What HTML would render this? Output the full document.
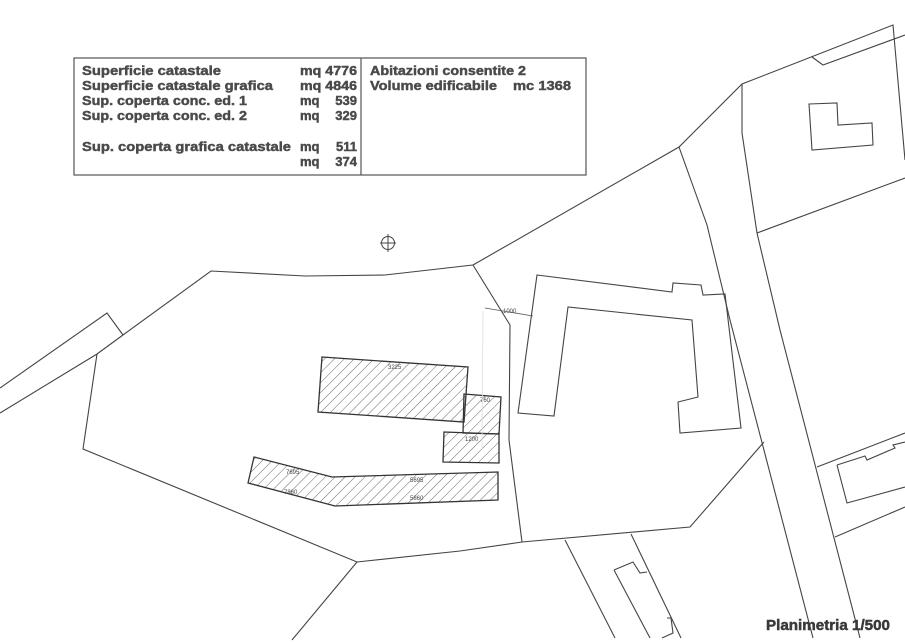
<!DOCTYPE html>
<html><head><meta charset="utf-8"><style>
html,body{margin:0;padding:0;background:#fff}
svg{display:block}
text{font-family:"Liberation Sans",sans-serif}
.t{font-weight:bold;font-size:13px;fill:#4a4a4a;stroke:#4a4a4a;stroke-width:0.45}
</style></head><body>
<svg width="905" height="642" viewBox="0 0 905 642" xmlns="http://www.w3.org/2000/svg">
<defs>
<pattern id="h" patternUnits="userSpaceOnUse" width="7" height="7" patternTransform="rotate(45)">
<line x1="0" y1="0" x2="0" y2="7" stroke="#555" stroke-width="0.9"/>
</pattern>
</defs>
<g fill="none" stroke="#444" stroke-width="1.1">
<polyline points="123,335 211,271 305,276 385,275 473,265"/>
<polyline points="97,354 83,449 357,562 460,551 522,542 690,527 764,442"/>
<polyline points="357,562 292,640"/>
<polyline points="0,388 107,313 123,335"/>
<polyline points="0,413 97,354 123,335"/>
<polyline points="473,265 510,325 509,440 522,542"/>
<polyline points="473,265 679,147 742,84 893,25 905,160"/>
<polyline points="812,57 823,65 905,35"/>
<polyline points="679,147 707,225 730,320 813,638"/>
<polyline points="742,84 742,133 757,233 780,330 860,638"/>
<line x1="757" y1="233" x2="905" y2="178"/>
<polygon points="809,104 837,103 838,125 872,123 873,145 812,150"/>
<polygon points="537,275 672,292 673,283 701,285 703,295 725,294 741,428 680,433 678,402 698,397 692,320 568,307 554,416 518,413"/>
<polyline points="817,467 905,433"/>
<polyline points="835,537 905,507"/>
<polyline points="837,465 865,456 867,460 895,448 893,445 905,442"/>
<polyline points="837,465 847,503 905,487"/>
<polyline points="565,540 615,638"/>
<polyline points="631,534 681,638"/>
<polyline points="614,570 633,562 640,573 647,572"/>
<polyline points="614,570 650,638"/>
<polyline points="667,618 671,618 673,633 662,638"/>
</g>
<g stroke="#333" stroke-width="1.3" fill="url(#h)">
<polygon points="322,357 468,367 464,422 318,412"/>
<polygon points="464,394 501,397 499,434 463,433"/>
<polygon points="444,432 499,434 499,463 443,462"/>
<polygon points="254,457 332,477 498,472 498,500 335,506 248,483"/>
</g>
<g font-size="6" fill="#444">
<text x="388" y="369">3225</text>
<text x="480" y="402">760</text>
<text x="465" y="441">1200</text>
<text x="286" y="474">7695</text>
<text x="284" y="494">7860</text>
<text x="410" y="482">5695</text>
<text x="410" y="500">5860</text>
<text x="503" y="313">1000</text>
</g>
<line x1="485" y1="308" x2="533" y2="316" stroke="#555" stroke-width="0.8"/>
<line x1="483" y1="311" x2="482" y2="450" stroke="#ddd" stroke-width="0.8"/>
<circle cx="388" cy="243" r="6.5" fill="none" stroke="#444" stroke-width="1"/>
<line x1="388" y1="234" x2="388" y2="252" stroke="#444" stroke-width="1"/>
<line x1="380" y1="243" x2="396" y2="243" stroke="#444" stroke-width="1"/>
<rect x="74" y="58" width="512" height="117" fill="#fff" stroke="#555" stroke-width="1.2"/>
<line x1="361" y1="58" x2="361" y2="175" stroke="#555" stroke-width="1.2"/>
<text class="t" x="82" y="75" textLength="139" lengthAdjust="spacingAndGlyphs">Superficie catastale</text>
<text class="t" x="82" y="90" textLength="191" lengthAdjust="spacingAndGlyphs">Superficie catastale grafica</text>
<text class="t" x="82" y="105" textLength="165" lengthAdjust="spacingAndGlyphs">Sup. coperta conc. ed. 1</text>
<text class="t" x="82" y="120" textLength="165" lengthAdjust="spacingAndGlyphs">Sup. coperta conc. ed. 2</text>
<text class="t" x="82" y="151" textLength="209" lengthAdjust="spacingAndGlyphs">Sup. coperta grafica catastale</text>
<text class="t" x="300" y="75" textLength="57" lengthAdjust="spacingAndGlyphs">mq 4776</text>
<text class="t" x="300" y="90" textLength="57" lengthAdjust="spacingAndGlyphs">mq 4846</text>
<text class="t" x="300" y="105">mq</text><text class="t" x="357" y="105" text-anchor="end">539</text>
<text class="t" x="300" y="120">mq</text><text class="t" x="357" y="120" text-anchor="end">329</text>
<text class="t" x="300" y="151">mq</text><text class="t" x="357" y="151" text-anchor="end">511</text>
<text class="t" x="300" y="166">mq</text><text class="t" x="357" y="166" text-anchor="end">374</text>
<text class="t" x="370" y="75" textLength="156" lengthAdjust="spacingAndGlyphs">Abitazioni consentite 2</text>
<text class="t" x="370" y="90" textLength="127" lengthAdjust="spacingAndGlyphs">Volume edificabile</text>
<text class="t" x="513" y="90" textLength="58" lengthAdjust="spacingAndGlyphs">mc 1368</text>
<text x="766" y="630" font-weight="bold" font-size="15" fill="#3a3a3a" stroke="#3a3a3a" stroke-width="0.5" textLength="124" lengthAdjust="spacingAndGlyphs">Planimetria 1/500</text>
</svg>
</body></html>
